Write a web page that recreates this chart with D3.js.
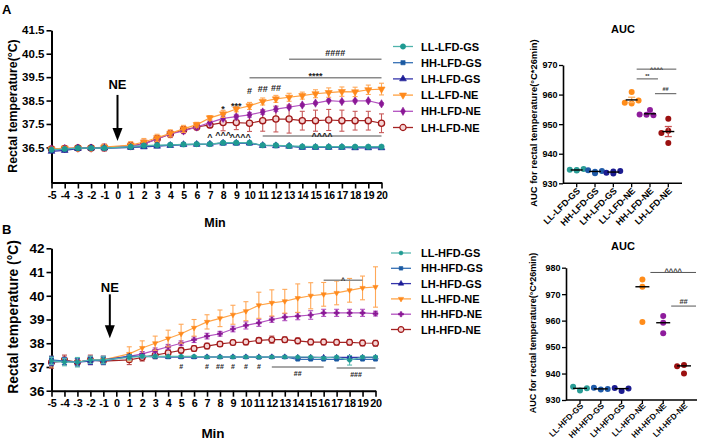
<!DOCTYPE html>
<html><head><meta charset="utf-8">
<script src="https://d3js.org/d3.v7.min.js"></script>
<style>
body{margin:0;background:#fff;}
svg{font-family:"Liberation Sans",Arial,Helvetica,sans-serif;font-weight:bold;}
</style></head>
<body><svg id="c" width="701" height="444"></svg>
<script>
// ================= DATA =================
const minutes = [-5,-4,-3,-2,-1,1,2,3,4,5,6,7,8,9,10,11,12,13,14,15,16,17,18,19,20];
const minuteTicks = [-5,-4,-3,-2,-1,0,1,2,3,4,5,6,7,8,9,10,11,12,13,14,15,16,17,18,19,20];
const tempTicksA = [36.5,37.5,38.5,39.5,40.5,41.5];
const tempTicksB = [36,37,38,39,40,41,42];

const groupsLFD = ["LL-LFD-GS","HH-LFD-GS","LH-LFD-GS","LL-LFD-NE","HH-LFD-NE","LH-LFD-NE"];
const groupsHFD = ["LL-HFD-GS","HH-HFD-GS","LH-HFD-GS","LL-HFD-NE","HH-HFD-NE","LH-HFD-NE"];

// Panel A (LFD) rectal temperature, mean and error
const lfdLLGS = [36.40,36.43,36.47,36.47,36.47,36.53,36.58,36.60,36.61,36.63,36.64,36.64,36.70,36.70,36.70,36.59,36.59,36.56,36.54,36.53,36.53,36.53,36.53,36.53,36.53];
const lfdHHGS = [36.38,36.42,36.47,36.47,36.47,36.50,36.55,36.57,36.60,36.62,36.63,36.64,36.68,36.68,36.68,36.58,36.57,36.55,36.50,36.50,36.50,36.50,36.50,36.50,36.50];
const lfdLHGS = [36.33,36.37,36.45,36.47,36.47,36.50,36.52,36.55,36.58,36.62,36.63,36.64,36.68,36.68,36.68,36.58,36.57,36.55,36.50,36.50,36.50,36.50,36.48,36.48,36.48];
const lfdLLNE = [36.43,36.47,36.47,36.47,36.51,36.60,36.73,36.91,37.10,37.29,37.47,37.76,37.93,38.14,38.27,38.46,38.57,38.64,38.71,38.79,38.84,38.88,38.87,38.96,38.99];
const lfdHHNE = [36.43,36.45,36.47,36.47,36.49,36.56,36.64,36.86,37.07,37.20,37.37,37.56,37.74,37.81,37.89,38.01,38.13,38.22,38.31,38.39,38.50,38.46,38.49,38.49,38.36];
const lfdLHNE = [36.43,36.45,36.47,36.47,36.49,36.56,36.66,36.86,37.07,37.24,37.37,37.46,37.56,37.56,37.53,37.64,37.71,37.71,37.64,37.64,37.67,37.64,37.64,37.64,37.53];
const lfdGSErr  = [0.05,0.05,0.05,0.05,0.05,0.04,0.04,0.04,0.04,0.04,0.04,0.04,0.04,0.04,0.04,0.04,0.04,0.04,0.04,0.04,0.04,0.04,0.04,0.04,0.04];
const lfdLLNEErr = [0.05,0.05,0.05,0.05,0.12,0.15,0.15,0.15,0.15,0.15,0.10,0.10,0.15,0.12,0.15,0.15,0.15,0.17,0.15,0.17,0.20,0.20,0.20,0.20,0.25];
const lfdHHNEErr = [0.05,0.05,0.05,0.05,0.05,0.05,0.05,0.08,0.08,0.08,0.08,0.10,0.10,0.10,0.10,0.10,0.10,0.06,0.05,0.05,0.05,0.05,0.05,0.05,0.05];
const lfdLHNEErr = [0.05,0.08,0.05,0.05,0.15,0.15,0.15,0.15,0.15,0.15,0.12,0.12,0.35,0.30,0.35,0.45,0.55,0.60,0.40,0.45,0.45,0.45,0.40,0.40,0.40];

// Panel B (HFD)
const hfdLLGS = [37.25,37.20,37.20,37.30,37.30,37.40,37.45,37.45,37.45,37.45,37.45,37.42,37.42,37.42,37.42,37.42,37.42,37.42,37.42,37.42,37.38,37.42,37.28,37.42,37.42];
const hfdHHGS = [37.30,37.25,37.20,37.30,37.25,37.45,37.45,37.42,37.42,37.42,37.42,37.42,37.42,37.42,37.42,37.40,37.42,37.42,37.32,37.32,37.32,37.32,37.33,37.32,37.32];
const hfdLHGS = [37.20,37.25,37.20,37.25,37.30,37.45,37.45,37.45,37.42,37.42,37.42,37.42,37.42,37.42,37.42,37.42,37.42,37.42,37.40,37.40,37.40,37.40,37.40,37.40,37.40];
const hfdLLNE = [37.20,37.25,37.20,37.30,37.30,37.55,37.80,38.00,38.20,38.40,38.65,38.90,39.05,39.20,39.35,39.60,39.70,39.77,39.90,40.00,40.06,40.12,40.23,40.33,40.37];
const hfdHHNE = [37.25,37.25,37.20,37.30,37.30,37.45,37.55,37.70,37.85,38.00,38.15,38.30,38.40,38.60,38.75,38.86,39.00,39.10,39.14,39.19,39.28,39.28,39.28,39.28,39.25];
const hfdLHNE = [37.20,37.30,37.20,37.30,37.25,37.30,37.40,37.50,37.60,37.70,37.78,37.88,37.97,38.03,38.05,38.12,38.15,38.15,38.10,38.05,38.05,38.04,38.04,38.01,38.00];
const hfdLLGSErr = [0.15,0.15,0.20,0.15,0.15,0.10,0.05,0.05,0.03,0.03,0.03,0.03,0.03,0.03,0.03,0.03,0.03,0.03,0.03,0.03,0.04,0.04,0.20,0.05,0.05];
const hfdGSErr   = [0.15,0.15,0.15,0.15,0.15,0.06,0.04,0.04,0.03,0.03,0.03,0.03,0.03,0.03,0.03,0.03,0.03,0.03,0.04,0.04,0.04,0.04,0.04,0.04,0.04];
const hfdLLNEErr = [0.20,0.15,0.15,0.15,0.15,0.30,0.30,0.30,0.35,0.40,0.35,0.30,0.35,0.40,0.40,0.55,0.55,0.50,0.60,0.55,0.50,0.50,0.50,0.50,0.85];
const hfdHHNEErr = [0.15,0.15,0.15,0.15,0.15,0.10,0.10,0.10,0.10,0.10,0.12,0.12,0.10,0.12,0.15,0.15,0.12,0.15,0.15,0.18,0.15,0.15,0.15,0.15,0.10];
const hfdLHNEErr = [0.25,0.20,0.15,0.20,0.15,0.20,0.15,0.15,0.12,0.12,0.12,0.12,0.10,0.10,0.12,0.12,0.15,0.12,0.12,0.12,0.12,0.12,0.12,0.12,0.12];

// Significance marks on the time courses
const sigAText = ["*","***","#","##","##","^","^^^","^^^^"];
const sigAMin  = [8,9,10,11,12,7,8,9.3];
const sigATemp = [38.01,38.14,38.76,38.85,38.89,36.81,36.88,36.81];
const barAText = ["####","****","^^^^"];
const barAFrom = [13,10,11];
const barATo   = [20,20,20];
const barATemp = [40.26,39.47,36.99];

const sigBText = ["#","#","##","#","#","#"];
const sigBMin  = [5,7,8,9,10,11];
const sigBTemp = [36.92,36.92,36.92,36.92,36.92,36.92];
const barBText = ["^","##","###"];
const barBFrom = [16,12,17];
const barBTo   = [19,16,20];
const barBTemp = [40.65,37.0,36.96];
const barBBelow = [false,true,true];

// AUC (°C*26min) individual animals
const aucLFD = [
  [934.3,934.6,934.8,934.5],
  [933.4,934.4,934.2,933.9],
  [933.3,933.6,934.2,934.0],
  [960.9,957.0,957.2,958.0],
  [954.8,953.2,953.0,953.3],
  [951.8,947.8,947.0,943.6]
];
const aucLFDCenter = [934.5,934.0,933.8,958.2,953.5,947.5];
const aucLFDErr    = [0.1,0.2,0.2,0.9,0.4,1.7];
const aucHFD = [
  [933.6,935.0,934.4],
  [934.0,934.6,934.2],
  [933.4,934.5,934.3],
  [975.5,972.8,959.5],
  [961.7,959.2,955.2],
  [943.2,942.8,940.0]
];
const aucHFDCenter = [934.4,934.2,934.3,972.8,959.2,942.9];
const aucTicksA = [930,940,950,960,970];
const aucTicksB = [930,940,950,960,970,980];
const aucSigAText = ["^^^^","**","##"];
const aucSigAPair = [[3,5],[3,4],[4,5]];
const aucSigALevel = [968.6,965.3,960.3];
const aucSigBText = ["^^^^","##"];
const aucSigBPair = [[3,5],[4,5]];
const aucSigBLevel = [978.2,965.5];

// ================= DRAWING =================
const svg = d3.select("#c");

const styleA = [
  {sym:d3.symbolCircle, size:22, fill:"#1f9a92", stroke:"#1f9a92", line:"#4fb3ab", err:"#4fb3ab"},
  {sym:d3.symbolSquare, size:18, fill:"#1b5aa2", stroke:"#1b5aa2", line:"#3570b5", err:"#3570b5"},
  {sym:d3.symbolTriangle, size:20, fill:"#1c1c96", stroke:"#1c1c96", line:"#3434ab", err:"#3434ab"},
  {sym:d3.symbolTriangle, rot:true, size:22, fill:"#ff8a1c", stroke:"#ff8a1c", line:"#ffa040", err:"#ffa858"},
  {sym:d3.symbolDiamond, size:20, fill:"#8a1896", stroke:"#8a1896", line:"#b352c0", err:"#c070c8"},
  {sym:d3.symbolCircle, size:30, fill:"#f4d4d4", stroke:"#a01818", line:"#a52424", err:"#c85a5a", open:true}
];
const styleB = [
  {sym:d3.symbolCircle, size:12, fill:"#1f9a92", stroke:"#1f9a92", line:"#58b8b0", err:"#58b8b0"},
  {sym:d3.symbolSquare, size:13, fill:"#1b5aa2", stroke:"#1b5aa2", line:"#3570b5", err:"#3570b5"},
  {sym:d3.symbolTriangle, size:13, fill:"#1c1c96", stroke:"#1c1c96", line:"#3434ab", err:"#3434ab"},
  {sym:d3.symbolTriangle, rot:true, size:12, fill:"#ff8a1c", stroke:"#ff8a1c", line:"#ffa448", err:"#ffa858"},
  {sym:d3.symbolCross, size:14, fill:"#8a1896", stroke:"#8a1896", line:"#b352c0", err:"#b352c0"},
  {sym:d3.symbolCircle, size:26, fill:"#f4d4d4", stroke:"#a01818", line:"#a52424", err:"#b84848", open:true}
];

function styleAxis(sel, fs){
  sel.select(".domain").attr("stroke","#000").attr("stroke-width",2);
  sel.selectAll(".tick line").attr("stroke","#000").attr("stroke-width",1.6);
  sel.selectAll(".tick text").attr("fill","#000").attr("font-size",fs).attr("font-weight","bold");
}

function drawMain(c){
  const x = d3.scaleLinear().domain([minuteTicks[0], minuteTicks[minuteTicks.length-1]]).range(c.xr);
  const y = d3.scaleLinear().domain(c.yd).range(c.yr);
  const g = svg.append("g");

  const ya = g.append("g").attr("transform",`translate(${c.xr[0]},0)`)
    .call(d3.axisLeft(y).tickValues(c.yticks).tickSize(5).tickSizeOuter(0).tickPadding(2).tickFormat(c.yfmt));
  styleAxis(ya, c.yfs);
  const xa = g.append("g").attr("transform",`translate(0,${c.yr[0]})`)
    .call(d3.axisBottom(x).tickValues(minuteTicks).tickSize(6).tickSizeOuter(0).tickPadding(3).tickFormat(d=>d));
  styleAxis(xa, c.xfs);
  xa.selectAll(".tick text").attr("letter-spacing", c.xls);

  const order = [5,4,3,2,1,0];
  order.forEach(k=>{
    const s = c.series[k], st = c.styles[k];
    const pts = minutes.map((m,i)=>({m, v:s.v[i], e:s.e[i]}));
    const eg = g.append("g").attr("stroke",st.err).attr("stroke-width",1.1);
    pts.forEach(p=>{
      const y1 = y(p.v - p.e), y2 = y(p.v + p.e), xx = x(p.m);
      eg.append("line").attr("x1",xx).attr("x2",xx).attr("y1",y1).attr("y2",y2);
      eg.append("line").attr("x1",xx-c.cap).attr("x2",xx+c.cap).attr("y1",y1).attr("y2",y1);
      eg.append("line").attr("x1",xx-c.cap).attr("x2",xx+c.cap).attr("y1",y2).attr("y2",y2);
    });
    g.append("path").datum(pts)
      .attr("d", d3.line().x(p=>x(p.m)).y(p=>y(p.v)))
      .attr("fill","none").attr("stroke",st.line).attr("stroke-width",c.lw);
    g.append("g").selectAll("path").data(pts).join("path")
      .attr("transform", p=>`translate(${x(p.m)},${y(p.v)})${st.rot?" rotate(180)":""}`)
      .attr("d", d3.symbol(st.sym, st.size)())
      .attr("fill", st.fill).attr("stroke", st.stroke).attr("stroke-width", st.open?1.3:0.6);
  });

  const ax = x(c.arrowMin);
  g.append("line").attr("x1",ax).attr("x2",ax).attr("y1",y(c.arrowTop)).attr("y2",y(c.arrowTip)-8)
    .attr("stroke","#000").attr("stroke-width",2);
  const tip = y(c.arrowTip);
  g.append("path").attr("d",`M${ax-5},${tip-13}L${ax+5},${tip-13}L${ax},${tip}Z`).attr("fill","#000");
  g.append("text").attr("x",ax).attr("y",y(c.neTemp)).attr("text-anchor","middle")
    .attr("font-size",13).attr("fill","#000").text("NE");

  c.sigText.forEach((t,i)=>{
    g.append("text").attr("x",x(c.sigMin[i])).attr("y",y(c.sigTemp[i])).attr("text-anchor","middle")
      .attr("font-size",c.sigFs).attr("fill","#222").text(t);
  });
  c.barText.forEach((t,i)=>{
    const yy = y(c.barTemp[i]);
    g.append("line").attr("x1",x(c.barFrom[i])).attr("x2",x(c.barTo[i])).attr("y1",yy).attr("y2",yy)
      .attr("stroke","#8a8a8a").attr("stroke-width",1.5);
    const ch = t[0];
    let dy = ch==="#" ? -3 : (ch==="*" ? 1 : 3);
    if (c.barBelow && c.barBelow[i]) dy = 9;
    g.append("text").attr("x",(x(c.barFrom[i])+x(c.barTo[i]))/2).attr("y",yy+dy)
      .attr("text-anchor","middle").attr("font-size",c.sigFs).attr("fill","#222").text(t);
  });

  g.append("text").attr("transform",`translate(${c.ytX},${c.ytY}) rotate(-90)`).attr("text-anchor","middle")
    .attr("dominant-baseline","central").attr("font-size",c.ytFs).attr("fill","#000").text(c.yTitle);
  g.append("text").attr("x",c.minX).attr("y",c.minY).attr("text-anchor","middle")
    .attr("font-size",c.minFs).attr("fill","#000").text("Min");

  c.groups.forEach((name,i)=>{
    const st = c.styles[i], yy = c.leg.y0 + i*c.leg.dy;
    g.append("line").attr("x1",c.leg.x0).attr("x2",c.leg.x0+c.leg.len).attr("y1",yy).attr("y2",yy)
      .attr("stroke",st.line).attr("stroke-width",1.3);
    g.append("path").attr("transform",`translate(${c.leg.mx},${yy})${st.rot?" rotate(180)":""}`)
      .attr("d",d3.symbol(st.sym, st.size)()).attr("fill",st.fill).attr("stroke",st.stroke)
      .attr("stroke-width", st.open?1.2:0.6);
    g.append("text").attr("x",c.leg.tx).attr("y",yy).attr("dominant-baseline","central")
      .attr("font-size",11).attr("fill","#000").text(name);
  });
}

function drawAUC(c){
  const x = d3.scalePoint().domain(c.groups).range(c.xr);
  const y = d3.scaleLinear().domain(c.yd).range(c.yr);
  const g = svg.append("g");
  const ya = g.append("g").attr("transform",`translate(${c.axX},0)`)
    .call(d3.axisLeft(y).tickValues(c.yticks).tickSize(4).tickSizeOuter(0).tickPadding(1.5));
  styleAxis(ya, 9);
  ya.select(".domain").attr("stroke-width",1.6);
  ya.selectAll(".tick line").attr("stroke-width",1.3);
  g.append("line").attr("x1",c.axX).attr("x2",c.axEnd).attr("y1",c.yr[0]).attr("y2",c.yr[0])
    .attr("stroke","#000").attr("stroke-width",1.6);
  c.groups.forEach(gn=>{
    g.append("line").attr("x1",x(gn)).attr("x2",x(gn)).attr("y1",c.yr[0]).attr("y2",c.yr[0]+4)
      .attr("stroke","#000").attr("stroke-width",1.3);
    g.append("text").attr("transform",`translate(${x(gn)+2},${c.yr[0]+c.xlOff}) rotate(-45)`)
      .attr("text-anchor","end").attr("dominant-baseline","central")
      .attr("font-size",c.xfs).attr("fill","#000").text(gn);
  });
  const r = c.r;
  c.data.forEach((vals,gi)=>{
    const placed = [];
    const cx = x(c.groups[gi]);
    vals.forEach(v=>{
      const py = y(v);
      const cands = [0,-1,1,-2,2,-3,3].map(k=>k*r*1.15);
      let ox = 0;
      for (const o of cands){
        if (placed.every(p=>Math.hypot(p.x-o, p.y-py) >= 2*r-0.6)) { ox=o; break; }
      }
      placed.push({x:ox,y:py});
      g.append("circle").attr("cx",cx+ox).attr("cy",py).attr("r",r).attr("fill",c.colors[gi]);
    });
    if (c.err){
      const e = c.err[gi], m = c.center[gi];
      if (e > 0.5){
        const ec = c.errColors[gi];
        g.append("line").attr("x1",cx).attr("x2",cx).attr("y1",y(m-e)).attr("y2",y(m+e)).attr("stroke",ec).attr("stroke-width",1.3);
        g.append("line").attr("x1",cx-3.5).attr("x2",cx+3.5).attr("y1",y(m-e)).attr("y2",y(m-e)).attr("stroke",ec).attr("stroke-width",1.3);
        g.append("line").attr("x1",cx-3.5).attr("x2",cx+3.5).attr("y1",y(m+e)).attr("y2",y(m+e)).attr("stroke",ec).attr("stroke-width",1.3);
      }
    }
    g.append("line").attr("x1",cx-c.mw).attr("x2",cx+c.mw).attr("y1",y(c.center[gi])).attr("y2",y(c.center[gi]))
      .attr("stroke","#000").attr("stroke-width",1.4);
  });
  c.sigText.forEach((t,i)=>{
    const x1 = x(c.groups[c.sigPair[i][0]]) + c.sigOff[0];
    const x2 = x(c.groups[c.sigPair[i][1]]) + c.sigOff[1];
    const yy = y(c.sigLevel[i]);
    g.append("line").attr("x1",x1).attr("x2",x2).attr("y1",yy).attr("y2",yy).attr("stroke","#555").attr("stroke-width",1);
    const dy = t[0]==="^" ? 1.5 : (t[0]==="*" ? -1 : -2.5);
    g.append("text").attr("x",(x1+x2)/2).attr("y",yy+dy).attr("text-anchor","middle")
      .attr("font-size",c.sigFs).attr("fill","#333").text(t);
  });
  g.append("text").attr("x",c.titleX).attr("y",c.titleY).attr("text-anchor","middle")
    .attr("font-size",11).attr("fill","#000").text("AUC");
  g.append("text").attr("transform",`translate(${c.ytX},${c.ytY}) rotate(-90)`).attr("text-anchor","middle")
    .attr("dominant-baseline","central").attr("font-size",c.ytFs).attr("fill","#000")
    .text("AUC for rectal temperature(°C*26min)");
}

svg.append("text").attr("x",2).attr("y",14).attr("font-size",13).attr("fill","#000").text("A");
svg.append("text").attr("x",2).attr("y",234).attr("font-size",13).attr("fill","#000").text("B");

drawMain({
  xr:[51.5,381.5], yd:[35,41.5], yr:[182.5,30.3], yticks:tempTicksA, yfmt:d3.format(".1f"), yfs:11.5, xfs:10.5, xls:-0.3,
  series:[{v:lfdLLGS,e:lfdGSErr},{v:lfdHHGS,e:lfdGSErr},{v:lfdLHGS,e:lfdGSErr},{v:lfdLLNE,e:lfdLLNEErr},{v:lfdHHNE,e:lfdHHNEErr},{v:lfdLHNE,e:lfdLHNEErr}],
  styles:styleA, groups:groupsLFD, lw:1.2, cap:2.5,
  arrowMin:0, arrowTop:38.74, arrowTip:36.77, neTemp:39.0,
  sigText:sigAText, sigMin:sigAMin, sigTemp:sigATemp, sigFs:9,
  barText:barAText, barFrom:barAFrom, barTo:barATo, barTemp:barATemp,
  ytX:13, ytY:106, ytFs:12.3, yTitle:"Rectal temperature(°C)",
  minX:215, minY:227, minFs:12.5,
  leg:{x0:393, len:20, mx:403, tx:421, y0:46.5, dy:16.2}
});

drawMain({
  xr:[51.5,375.5], yd:[36,42], yr:[390.7,248.3], yticks:tempTicksB, yfmt:d3.format("d"), yfs:13.5, xfs:10.8, xls:-0.2,
  series:[{v:hfdLLGS,e:hfdLLGSErr},{v:hfdHHGS,e:hfdGSErr},{v:hfdLHGS,e:hfdGSErr},{v:hfdLLNE,e:hfdLLNEErr},{v:hfdHHNE,e:hfdHHNEErr},{v:hfdLHNE,e:hfdLHNEErr}],
  styles:styleB, groups:groupsHFD, lw:1.2, cap:2.5,
  arrowMin:-0.5, arrowTop:40.06, arrowTip:38.21, neTemp:40.17,
  sigText:sigBText, sigMin:sigBMin, sigTemp:sigBTemp, sigFs:7,
  barText:barBText, barFrom:barBFrom, barTo:barBTo, barTemp:barBTemp, barBelow:barBBelow,
  ytX:13, ytY:317, ytFs:13.8, yTitle:"Rectal temperature (°C)",
  minX:213, minY:438, minFs:13.5,
  leg:{x0:391, len:20, mx:401, tx:421, y0:253, dy:15.3}
});

drawAUC({
  groups:groupsLFD, xr:[576.7,668.3], yd:[930,970], yr:[183.3,65], yticks:aucTicksA, axX:563, axEnd:682,
  data:aucLFD, center:aucLFDCenter, err:aucLFDErr, r:3, mw:6, xfs:9, xlOff:6,
  colors:["#2a9d96","#1f5aa8","#1c1c90","#ff8c1a","#8e1c9c","#9b1010"],
  errColors:["#2a9d96","#1f5aa8","#1c1c90","#ffb060","#b050c0","#c85050"],
  sigText:aucSigAText, sigPair:aucSigAPair, sigLevel:aucSigALevel, sigOff:[5,8], sigFs:5.5,
  titleX:623, titleY:33, ytX:533, ytY:123, ytFs:9.4
});

drawAUC({
  groups:groupsHFD, xr:[580,684], yd:[930,980], yr:[400,267.7], yticks:aucTicksB, axX:566, axEnd:697,
  data:aucHFD, center:aucHFDCenter, err:null, r:3, mw:7, xfs:8.2, xlOff:4.5,
  colors:["#2a9d96","#1f5aa8","#1c1c90","#ff8c1a","#8e1c9c","#9b1010"],
  sigText:aucSigBText, sigPair:aucSigBPair, sigLevel:aucSigBLevel, sigOff:[8,12], sigFs:7.5,
  titleX:623, titleY:250, ytX:532.7, ytY:333, ytFs:9
});
</script></body></html>
